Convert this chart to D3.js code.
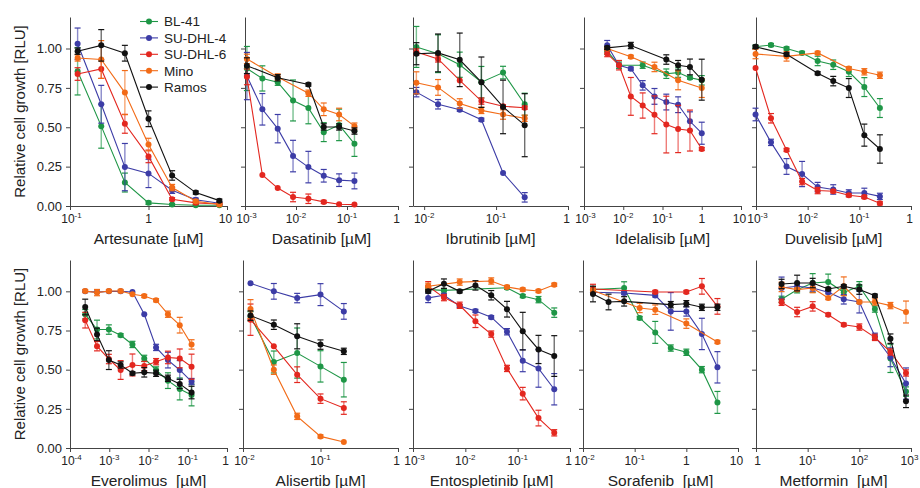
<!DOCTYPE html>
<html>
<head>
<meta charset="utf-8">
<script src="https://cdn.jsdelivr.net/npm/d3@7"></script>
<style>
  body { margin: 0; background: #fff; }
  svg { display: block; font-family: "Liberation Sans", Arial, Helvetica, sans-serif; }
</style>
</head>
<body>
<script>
// cell lines, in legend order
const cellLines = ["BL-41", "SU-DHL-4", "SU-DHL-6", "Mino", "Ramos"];
const lineColors = ["#1e9646", "#3c3ca6", "#e3271f", "#f26b17", "#111111"];

// rows: BL-41, SU-DHL-4, SU-DHL-6, Mino, Ramos (null = no point)
const artesunateConc = [0.125, 0.25, 0.5, 1, 2, 4, 8];
const artesunateMean = [
  [0.855, 0.507, 0.149, 0.02, 0.01, 0.005, 0.005],
  [1.03, 0.646, 0.247, 0.207, 0.10, 0.04, 0.017],
  [0.838, 0.87, 0.522, 0.315, 0.043, 0.02, 0.013],
  [0.94, 0.93, 0.72, 0.39, 0.117, 0.03, 0.01],
  [0.983, 1.02, 0.97, 0.554, 0.194, 0.085, 0.034]
];
const artesunateSd = [
  [0.15, 0.14, 0.06, 0.01, 0.005, 0.005, 0.005],
  [0.1, 0.12, 0.15, 0.09, 0.02, 0.01, 0.01],
  [0.04, 0.06, 0.06, 0.04, 0.01, 0.01, 0.005],
  [0.02, 0.12, 0.14, 0.04, 0.02, 0.01, 0.01],
  [0.02, 0.1, 0.05, 0.05, 0.03, 0.01, 0.01]
];

const dasatinibConc = [0.00109, 0.00219, 0.00438, 0.00875, 0.0175, 0.035, 0.07, 0.14];
const dasatinibMean = [
  [0.873, 0.81, 0.786, 0.67, 0.622, 0.469, 0.515, 0.395],
  [0.825, 0.614, 0.491, 0.317, 0.247, 0.192, 0.164, 0.159],
  [0.82, 0.197, 0.114, 0.057, 0.046, 0.026, 0.011, 0.009],
  [0.934, null, 0.819, null, 0.716, 0.614, 0.581, 0.507],
  [0.891, null, 0.814, null, 0.771, 0.502, 0.502, 0.476]
];
const dasatinibSd = [
  [0.14, 0.08, 0.02, 0.13, 0.1, 0.06, 0.1, 0.08],
  [0.15, 0.1, 0.09, 0.1, 0.1, 0.04, 0.04, 0.05],
  [0.05, 0, 0, 0.03, 0.03, 0.01, 0, 0],
  [0.03, 0, 0.02, 0, 0.02, 0.04, 0.04, 0.02],
  [0.05, 0, 0.02, 0, 0.01, 0.02, 0.02, 0.02]
];

const ibrutinibConc = [0.0078, 0.0156, 0.03125, 0.0625, 0.125, 0.25];
const ibrutinibMean = [
  [1.01, 0.967, 0.897, 0.786, 0.847, 0.646],
  [0.723, 0.646, 0.611, 0.548, 0.21, 0.055],
  [0.978, 0.934, 0.797, 0.666, 0.633, 0.624],
  [0.782, 0.753, 0.651, 0.607, 0.581, 0.557],
  [0.967, 0.972, 0.928, 0.786, 0.629, 0.513]
];
const ibrutinibSd = [
  [0.13, 0.12, 0.08, 0.1, 0.04, 0.07],
  [0.03, 0.03, 0.01, 0.01, 0, 0.03],
  [0.02, 0.02, 0, 0.02, 0.01, 0.01],
  [0.07, 0.05, 0.03, 0.02, 0.03, 0.02],
  [0.07, 0.12, 0.17, 0.16, 0.17, 0.2]
];

const idelalisibConc = [0.0039, 0.0078, 0.0156, 0.03125, 0.0625, 0.125, 0.25, 0.5, 1];
const idelalisibMean = [
  [0.983, 0.894, null, 0.894, null, 0.84, 0.847, 0.815, 0.798],
  [1.021, 0.894, 0.872, 0.766, 0.696, 0.66, 0.643, 0.538, 0.462],
  [0.968, 0.894, 0.696, 0.638, 0.579, 0.517, 0.489, 0.479, 0.362],
  [1.0, null, 0.947, null, 0.883, null, 0.798, null, 0.749],
  [1.004, null, 1.019, null, null, 0.93, 0.894, 0.883, 0.802]
];
const idelalisibSd = [
  [0.02, 0.02, 0, 0.02, 0, 0.03, 0.03, 0.01, 0.03],
  [0.03, 0, 0.01, 0.03, 0.05, 0.05, 0.05, 0.06, 0.07],
  [0.02, 0.03, 0.12, 0.08, 0.12, 0.18, 0.15, 0.13, 0.01],
  [0.01, 0, 0.01, 0, 0.03, 0, 0.06, 0, 0.06],
  [0.01, 0, 0.02, 0, 0, 0.03, 0.03, 0.05, 0.13]
];

const duvelisibConc = [0.00098, 0.00195, 0.0039, 0.0078, 0.0156, 0.03125, 0.0625, 0.125, 0.25];
const duvelisibMean = [
  [1.011, 1.022, 1.0, 0.972, 0.921, 0.897, 0.852, 0.755, 0.622],
  [0.581, 0.404, 0.251, 0.203, 0.12, 0.105, 0.083, 0.083, 0.061],
  [0.876, 0.557, 0.356, 0.155, 0.098, 0.094, 0.068, 0.057, 0.017],
  [0.965, null, 0.95, null, 0.972, null, 0.873, 0.852, 0.83],
  [1.011, null, 0.963, null, 0.843, 0.793, 0.749, 0.45, 0.362]
];
const duvelisibSd = [
  [0.01, 0.01, 0.01, 0.01, 0.03, 0.03, 0.03, 0.06, 0.06],
  [0.04, 0.02, 0.05, 0.08, 0.03, 0.03, 0.02, 0.03, 0.02],
  [0, 0.03, 0.01, 0.02, 0.02, 0.01, 0.01, 0.01, 0.01],
  [0.03, 0, 0.03, 0, 0.01, 0, 0.01, 0.02, 0.02],
  [0.01, 0, 0.01, 0, 0.01, 0.03, 0.06, 0.07, 0.09]
];

const everolimusConc = [0.000244, 0.000488, 0.000977, 0.00195, 0.0039, 0.0078, 0.0156, 0.03125, 0.0625, 0.125];
const everolimusMean = [
  [0.854, 0.756, 0.756, 0.72, 0.661, 0.572, 0.498, 0.43, 0.377, 0.339],
  [1.0, 0.995, 1.0, 1.0, 0.996, 0.854, 0.642, 0.561, 0.498, 0.424],
  [0.816, 0.65, 0.568, 0.498, 0.53, 0.523, 0.551, 0.578, 0.572, 0.519],
  [1.002, 0.992, 1.002, 1.002, 0.981, 0.97, 0.943, 0.854, 0.784, 0.661],
  [0.9, 0.725, 0.561, 0.53, 0.477, 0.483, 0.477, 0.445, 0.409, 0.354]
];
const everolimusSd = [
  [0.03, 0.06, 0.03, 0.01, 0.02, 0.02, 0.02, 0.05, 0.07, 0.07],
  [0, 0, 0, 0, 0, 0, 0.02, 0.05, 0.06, 0.02],
  [0.05, 0.03, 0.03, 0.06, 0.07, 0.03, 0.02, 0.04, 0.06, 0.08],
  [0.01, 0.02, 0.01, 0.01, 0, 0.01, 0.01, 0.02, 0.05, 0.03],
  [0.05, 0.04, 0.06, 0.02, 0.01, 0.03, 0.02, 0.02, 0.03, 0.04]
];

const alisertibConc = [0.0125, 0.025, 0.05, 0.1, 0.2];
const alisertibMean = [
  [0.84, 0.549, 0.606, 0.521, 0.436],
  [1.051, 1.0, 0.957, 0.979, 0.872],
  [0.819, 0.649, 0.468, 0.315, 0.255],
  [0.887, 0.5, 0.202, 0.074, 0.038],
  [0.845, 0.787, 0.713, 0.66, 0.617]
];
const alisertibSd = [
  [0.03, 0.07, 0.16, 0.1, 0.11],
  [0, 0.05, 0.03, 0.07, 0.05],
  [0.1, 0, 0.05, 0.03, 0.04],
  [0.06, 0.03, 0.02, 0.01, 0],
  [0.03, 0.03, 0.08, 0.03, 0.02]
];

const entospletinibConc = [0.00195, 0.0039, 0.0078, 0.0156, 0.03125, 0.0625, 0.125, 0.25, 0.5];
const entospletinibMean = [
  [1.011, 1.006, null, null, null, 1.023, 0.97, 0.947, 0.864],
  [0.958, 0.975, 0.907, 0.875, 0.835, 0.742, 0.557, 0.508, 0.375],
  [1.032, 0.96, 0.911, 0.809, 0.727, 0.508, 0.347, 0.191, 0.097],
  [1.032, null, 1.059, null, 1.066, 1.028, 1.011, 1.002, 1.042],
  [1.0, 1.049, 1.0, 1.038, 0.975, 0.886, 0.746, 0.629, 0.587]
];
const entospletinibSd = [
  [0.01, 0.01, 0, 0, 0, 0.01, 0.01, 0.02, 0.03],
  [0.03, 0.01, 0.01, 0.01, 0.01, 0.02, 0.07, 0.12, 0.1],
  [0.03, 0.02, 0.02, 0.04, 0.02, 0.02, 0.04, 0.05, 0.02],
  [0.02, 0, 0.02, 0, 0.02, 0.01, 0.01, 0.01, 0.01],
  [0.01, 0.03, 0.01, 0.03, 0.03, 0.05, 0.12, 0.09, 0.13]
];

const sorafenibConc = [0.0156, 0.03125, 0.0625, 0.125, 0.25, 0.5, 1, 2, 4];
const sorafenibMean = [
  [1.011, null, 1.021, 0.83, 0.738, 0.638, 0.611, 0.5, 0.291],
  [0.994, null, 0.989, null, 0.974, 0.872, 0.872, 0.728, 0.515],
  [1.015, null, null, null, 0.996, null, 0.996, 1.032, 0.904],
  [1.006, null, null, 0.894, 0.883, null, 0.794, null, 0.677],
  [0.983, 0.932, 0.936, null, null, 0.915, 0.921, 0.898, 0.898]
];
const sorafenibSd = [
  [0.02, 0, 0.04, 0.01, 0.07, 0.02, 0.02, 0.02, 0.07],
  [0.01, 0, 0.01, 0, 0.01, 0.12, 0.03, 0.1, 0.1],
  [0.03, 0, 0, 0, 0.01, 0, 0.01, 0.05, 0.05],
  [0.01, 0, 0, 0.03, 0.03, 0, 0.03, 0, 0.01],
  [0.05, 0.05, 0.03, 0, 0, 0.02, 0.02, 0.02, 0.02]
];

const metforminConc = [3.125, 6.25, 12.5, 25, 50, 100, 200, 400, 800];
const metforminMean = [
  [0.949, 1.01, 1.053, 1.06, 0.994, 1.032, 0.887, 0.572, 0.36],
  [1.021, 1.032, 1.021, 0.994, 0.949, 0.932, 0.713, 0.579, 0.411],
  [0.93, 0.868, 0.904, 0.851, 0.787, 0.772, 0.706, 0.613, 0.479],
  [1.028, 1.011, 1.021, 0.957, 1.032, 0.932, 0.932, 0.909, 0.868],
  [1.047, 1.053, 1.053, 1.015, 1.032, 1.011, 0.972, 0.698, 0.298]
];
const metforminSd = [
  [0.02, 0.02, 0.06, 0.05, 0.02, 0.03, 0.02, 0.09, 0.03],
  [0.07, 0.02, 0.02, 0.01, 0.03, 0.07, 0.02, 0.06, 0.1],
  [0.02, 0.03, 0.03, 0.01, 0.01, 0.02, 0.02, 0.02, 0.02],
  [0.03, 0.01, 0.03, 0.01, 0.06, 0.01, 0.02, 0.02, 0.07],
  [0.03, 0.05, 0.03, 0.01, 0.01, 0.03, 0.01, 0.03, 0.04]
];

const drugTitles = ["Artesunate [µM]", "Dasatinib [µM]", "Ibrutinib [µM]", "Idelalisib [µM]", "Duvelisib [µM]",
  "Everolimus  [µM]", "Alisertib [µM]", "Entospletinib [µM]", "Sorafenib  [µM]", "Metformin  [µM]"];
const yTicks = [0, 0.25, 0.5, 0.75, 1];

// panel placement: pixel range of x axis + axis extent
const panelBoxes = [
  { row: 0, x0: 70, x1: 227, lo: 0.1, hi: 10 },
  { row: 0, x0: 245, x1: 398, lo: 1e-3, hi: 1 },
  { row: 0, x0: 413, x1: 568, lo: 0.007, hi: 1 },
  { row: 0, x0: 584, x1: 741, lo: 1e-3, hi: 10 },
  { row: 0, x0: 756, x1: 911, lo: 1e-3, hi: 1 },
  { row: 1, x0: 70, x1: 227, lo: 1e-4, hi: 1 },
  { row: 1, x0: 243, x1: 398, lo: 1e-2, hi: 1 },
  { row: 1, x0: 413, x1: 570, lo: 1e-3, hi: 1 },
  { row: 1, x0: 583, x1: 738, lo: 1e-2, hi: 10 },
  { row: 1, x0: 756, x1: 911, lo: 1, hi: 1000, supTen: true }
];
const rowY = [{ base: 206, top: 17 }, { base: 448, top: 260 }];

const panelData = [
  [artesunateConc, artesunateMean, artesunateSd],
  [dasatinibConc, dasatinibMean, dasatinibSd],
  [ibrutinibConc, ibrutinibMean, ibrutinibSd],
  [idelalisibConc, idelalisibMean, idelalisibSd],
  [duvelisibConc, duvelisibMean, duvelisibSd],
  [everolimusConc, everolimusMean, everolimusSd],
  [alisertibConc, alisertibMean, alisertibSd],
  [entospletinibConc, entospletinibMean, entospletinibSd],
  [sorafenibConc, sorafenibMean, sorafenibSd],
  [metforminConc, metforminMean, metforminSd]
];

const svg = d3.select("body").append("svg")
  .attr("width", 920)
  .attr("height", 488);

const axisColor = "#444";

panelBoxes.forEach((box, p) => {
  const [conc, mean, sd] = panelData[p];
  const ry = rowY[box.row];
  const x = d3.scaleLog().domain([box.lo, box.hi]).range([box.x0, box.x1]);
  const y = d3.scaleLinear().domain([0, 1.2]).range([ry.base, ry.top]);
  const g = svg.append("g");
  const firstCol = p % 5 === 0;

  // y axis
  const yAxis = g.append("g")
    .attr("transform", `translate(${box.x0},0)`)
    .call(d3.axisLeft(y).tickValues(yTicks).tickSize(4).tickSizeOuter(0)
      .tickFormat(firstCol ? d3.format(".2f") : ""));
  yAxis.select(".domain").attr("stroke", axisColor);
  yAxis.selectAll(".tick line").attr("stroke", axisColor);
  yAxis.selectAll(".tick text")
    .attr("x", -8)
    .attr("font-size", 13)
    .attr("font-family", null)
    .attr("fill", "#222");

  // x axis, decade ticks
  const decades = d3.range(Math.ceil(Math.log10(box.lo) - 1e-9), Math.floor(Math.log10(box.hi) + 1e-9) + 1)
    .map(e => Math.pow(10, e));
  const xAxis = g.append("g")
    .attr("transform", `translate(0,${ry.base})`)
    .call(d3.axisBottom(x).tickValues(decades).tickSize(4).tickSizeOuter(0).tickFormat(""));
  xAxis.select(".domain").attr("stroke", axisColor);
  xAxis.selectAll(".tick line").attr("stroke", axisColor);

  decades.forEach((v, k) => {
    const e = Math.round(Math.log10(v));
    // labels at the ends of an axis are pulled in a little so neighbours don't collide
    let nudge = 0;
    if (k === 0 && Math.abs(x(v) - box.x0) < 1) nudge = 1.5;
    if (k === decades.length - 1 && Math.abs(x(v) - box.x1) < 1) nudge = -1.5;
    const t = g.append("text")
      .attr("x", x(v) + nudge)
      .attr("y", ry.base + 17)
      .attr("text-anchor", "middle")
      .attr("font-size", 12)
      .attr("fill", "#222");
    if (e === 0) {
      t.text("1");
    } else if (e === 1 && !box.supTen) {
      t.text("10");
    } else {
      t.append("tspan").text("10");
      t.append("tspan").attr("dy", -5).attr("font-size", 8).text(e);
    }
  });

  g.append("text")
    .attr("x", (box.x0 + box.x1) / 2)
    .attr("y", ry.base + 38)
    .attr("text-anchor", "middle")
    .attr("font-size", 15.5)
    .attr("fill", "#222")
    .style("white-space", "pre")
    .text(drugTitles[p]);

  if (firstCol) {
    g.append("text")
      .attr("transform", `translate(25,${(ry.base + ry.top) / 2}) rotate(-90)`)
      .attr("text-anchor", "middle")
      .attr("font-size", 15)
      .attr("fill", "#222")
      .text("Relative cell growth [RLU]");
  }

  // series
  const line = d3.line().x(d => x(d.c)).y(d => y(d.m));
  cellLines.forEach((name, i) => {
    const pts = conc.map((c, j) => ({ c: c, m: mean[i][j], s: sd[i][j] }))
      .filter(d => d.m !== null);
    const col = lineColors[i];
    const sg = g.append("g");

    sg.append("path")
      .datum(pts)
      .attr("d", line)
      .attr("fill", "none")
      .attr("stroke", col)
      .attr("stroke-width", 1.1);

    const bars = pts.filter(d => d.s > 0);
    sg.selectAll("line.err")
      .data(bars)
      .join("line")
      .attr("class", "err")
      .attr("x1", d => x(d.c)).attr("x2", d => x(d.c))
      .attr("y1", d => y(d.m - d.s)).attr("y2", d => y(d.m + d.s))
      .attr("stroke", col)
      .attr("stroke-opacity", 0.6)
      .attr("stroke-width", 1.4);
    [-1, 1].forEach(k => {
      sg.selectAll("line.cap" + (k + 1))
        .data(bars)
        .join("line")
        .attr("class", "cap" + (k + 1))
        .attr("x1", d => x(d.c) - 3).attr("x2", d => x(d.c) + 3)
        .attr("y1", d => y(d.m + k * d.s)).attr("y2", d => y(d.m + k * d.s))
        .attr("stroke", col)
        .attr("stroke-width", 1.2);
    });

    sg.selectAll("circle")
      .data(pts)
      .join("circle")
      .attr("cx", d => x(d.c))
      .attr("cy", d => y(d.m))
      .attr("r", 3)
      .attr("fill", col);
  });
});

// legend inside first panel
const legend = svg.append("g");
cellLines.forEach((name, i) => {
  const ly = 21.5 + i * 16.4;
  legend.append("line")
    .attr("x1", 140).attr("x2", 158)
    .attr("y1", ly).attr("y2", ly)
    .attr("stroke", lineColors[i])
    .attr("stroke-width", 1.1);
  legend.append("circle")
    .attr("cx", 149).attr("cy", ly).attr("r", 3)
    .attr("fill", lineColors[i]);
  legend.append("text")
    .attr("x", 164).attr("y", ly)
    .attr("dy", "0.36em")
    .attr("font-size", 13.5)
    .attr("fill", "#222")
    .text(name);
});
</script>
</body>
</html>
